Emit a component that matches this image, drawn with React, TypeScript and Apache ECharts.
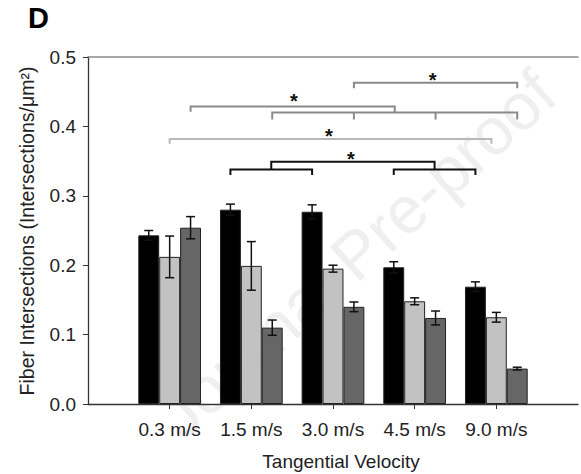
import React, { useEffect, useRef } from "react";
import * as echarts from "echarts";

// ---- data ----
const velocityLabels = ["0.3 m/s", "1.5 m/s", "3.0 m/s", "4.5 m/s", "9.0 m/s"];
const blackValues = [0.243, 0.280, 0.277, 0.197, 0.169];
const blackErrors = [0.007, 0.008, 0.010, 0.008, 0.007];
const lightValues = [0.212, 0.199, 0.195, 0.148, 0.125];
const lightErrors = [0.030, 0.035, 0.005, 0.005, 0.007];
const darkValues = [0.254, 0.110, 0.140, 0.124, 0.051];
const darkErrors = [0.016, 0.011, 0.007, 0.010, 0.002];
const yTicks = [0, 0.1, 0.2, 0.3, 0.4, 0.5];

// significance brackets: points are [category, barIndex (0 black,1 light,2 dark), value]
const bracketPaths: number[][][] = [
  [[2, 2, 0.455], [2, 2, 0.463], [4, 2, 0.463], [4, 2, 0.455]],
  [[1, 2, 0.410], [1, 2, 0.420], [4, 2, 0.420], [4, 2, 0.410]],
  [[2, 2, 0.420], [2, 2, 0.410]],
  [[3, 2, 0.420], [3, 2, 0.410]],
  [[0, 2, 0.421], [0, 2, 0.4285], [2.5, 2, 0.4285], [2.5, 2, 0.420]],
  [[0, 1, 0.375], [0, 1, 0.382], [3.94, 1, 0.382], [3.94, 1, 0.375]],
  [[1, 0, 0.330], [1, 0, 0.338], [2, 0, 0.338], [2, 0, 0.330]],
  [[3, 0, 0.330], [3, 0, 0.338], [4, 0, 0.338], [4, 0, 0.330]],
  [[1.5, 0, 0.338], [1.5, 0, 0.349], [3.5, 0, 0.349], [3.5, 0, 0.338]],
];
const bracketTones = ["mid", "mid", "mid", "mid", "mid", "light", "dark", "dark", "dark"];
// stars: [category (centre bar), value]
const starMarks: number[][] = [
  [3.22, 0.474],
  [1.52, 0.443],
  [1.95, 0.392],
  [2.22, 0.359],
];

const FONT = "'Liberation Sans', Arial, Helvetica, sans-serif";
const BAR_FRAC = 0.256;
const toneColor: Record<string, string> = { mid: "#8a8a8a", light: "#b8b8b8", dark: "#111111" };

export default function App() {
  const ref = useRef<HTMLDivElement>(null);
  useEffect(() => {
    if (!ref.current) return;
    const chart = echarts.init(ref.current, null, { renderer: "svg" });
    const cats = ["", ...velocityLabels, ""];

    const xPix = (api: any, cat: number, bar: number) => {
      const x0 = api.coord([1, 0])[0];
      const band = api.size([1, 0])[0];
      return x0 + cat * band + (bar - 1) * band * BAR_FRAC;
    };

    const errSeries = (vals: number[], errs: number[], bar: number) => ({
      type: "custom",
      z: 5,
      silent: true,
      data: vals.map((v, i) => [i + 1, v, errs[i]]),
      encode: { x: 0, y: 1 },
      renderItem: (params: any, api: any) => {
        const cat = api.value(0) - 1;
        const v = api.value(1);
        const e = api.value(2);
        const x = xPix(api, cat, bar);
        const yHi = api.coord([1, v + e])[1];
        const yLo = api.coord([1, v - e])[1];
        const hw = 4.5;
        const st = { stroke: "#111", lineWidth: 1.5 };
        return {
          type: "group",
          children: [
            { type: "line", shape: { x1: x, y1: yHi, x2: x, y2: yLo }, style: st },
            { type: "line", shape: { x1: x - hw, y1: yHi, x2: x + hw, y2: yHi }, style: st },
            { type: "line", shape: { x1: x - hw, y1: yLo, x2: x + hw, y2: yLo }, style: st },
          ],
        };
      },
    });

    const barSeries = (vals: number[], color: string) => ({
      type: "bar",
      data: vals.map((v, i) => [i + 1, v]),
      barWidth: "25.6%",
      barGap: "0%",
      itemStyle: { color, borderColor: "#222", borderWidth: 1 },
    });

    chart.setOption({
      animation: false,
      backgroundColor: "#fff",
      grid: { left: 88, right: 0, top: 57, bottom: 70 },
      xAxis: [
        {
          type: "category",
          data: cats,
          boundaryGap: false,
          axisLine: { lineStyle: { color: "#333", width: 1.3 } },
          axisTick: { length: 5, interval: (i: number) => i > 0 && i < cats.length - 1, lineStyle: { color: "#333" } },
          axisLabel: { interval: 0, margin: 16, fontSize: 19, fontFamily: FONT, color: "#222" },
          splitLine: { show: false },
        },
        {
          type: "category",
          data: cats,
          position: "top",
          boundaryGap: false,
          axisLine: { show: true, lineStyle: { color: "#8a8a8a", width: 1.5 } },
          axisTick: { show: false },
          axisLabel: { show: false },
          splitLine: { show: false },
        },
      ],
      yAxis: {
        type: "value",
        min: yTicks[0],
        max: yTicks[yTicks.length - 1],
        interval: 0.1,
        axisLine: { show: true, lineStyle: { color: "#333", width: 1.3 } },
        axisTick: { show: true, length: 5, lineStyle: { color: "#333" } },
        axisLabel: { margin: 12, fontSize: 19, fontFamily: FONT, color: "#222", formatter: (v: number) => v.toFixed(1) },
        splitLine: { show: false },
      },
      graphic: [
        {
          type: "text",
          z: -10,
          silent: true,
          x: 356,
          y: 254,
          rotation: 0.735,
          style: { text: "Journal Pre-proof", fontSize: 66, fontFamily: FONT, fill: "#efefef", align: "center", verticalAlign: "middle" },
        },
        {
          type: "text",
          x: 28,
          y: 17.5,
          style: { text: "D", fontSize: 29, fontWeight: "bold", fontFamily: FONT, fill: "#000", align: "left", verticalAlign: "middle" },
        },
        {
          type: "text",
          x: 27,
          y: 231,
          rotation: Math.PI / 2,
          style: { text: "Fiber Intersections (Intersections/μm²)", fontSize: 19.5, fontFamily: FONT, fill: "#222", align: "center", verticalAlign: "middle" },
        },
        {
          type: "text",
          x: 341,
          y: 461,
          style: { text: "Tangential Velocity", fontSize: 19, fontFamily: FONT, fill: "#222", align: "center", verticalAlign: "middle" },
        },
      ],
      series: [
        barSeries(blackValues, "#000000"),
        barSeries(lightValues, "#c2c2c2"),
        barSeries(darkValues, "#666666"),
        errSeries(blackValues, blackErrors, 0),
        errSeries(lightValues, lightErrors, 1),
        errSeries(darkValues, darkErrors, 2),
        {
          type: "custom",
          z: 6,
          silent: true,
          clip: false,
          data: bracketPaths.map((_, i) => [1, 0, i]),
          encode: { x: 0, y: 1 },
          renderItem: (params: any, api: any) => {
            const idx = params.dataIndex;
            const pts = bracketPaths[idx].map((p) => [xPix(api, p[0], p[1]), api.coord([1, p[2]])[1]]);
            return {
              type: "polyline",
              shape: { points: pts },
              style: { stroke: toneColor[bracketTones[idx]], lineWidth: 2, fill: null },
            };
          },
        },
        {
          type: "custom",
          z: 6,
          silent: true,
          clip: false,
          data: starMarks.map((s) => [1, s[1], s[0]]),
          encode: { x: 0, y: 1 },
          renderItem: (params: any, api: any) => {
            const s = starMarks[params.dataIndex];
            const x = xPix(api, s[0], 1);
            const y = api.coord([1, s[1]])[1];
            return {
              type: "text",
              x,
              y: y + 4.5,
              style: { text: "*", fontSize: 20, fontWeight: "bold", fontFamily: FONT, fill: "#111", align: "center", verticalAlign: "middle" },
            };
          },
        },
      ],
    });
    return () => chart.dispose();
  }, []);
  return <div ref={ref} style={{ position: "fixed", left: 0, top: 0, width: 581, height: 474 }} />;
}
